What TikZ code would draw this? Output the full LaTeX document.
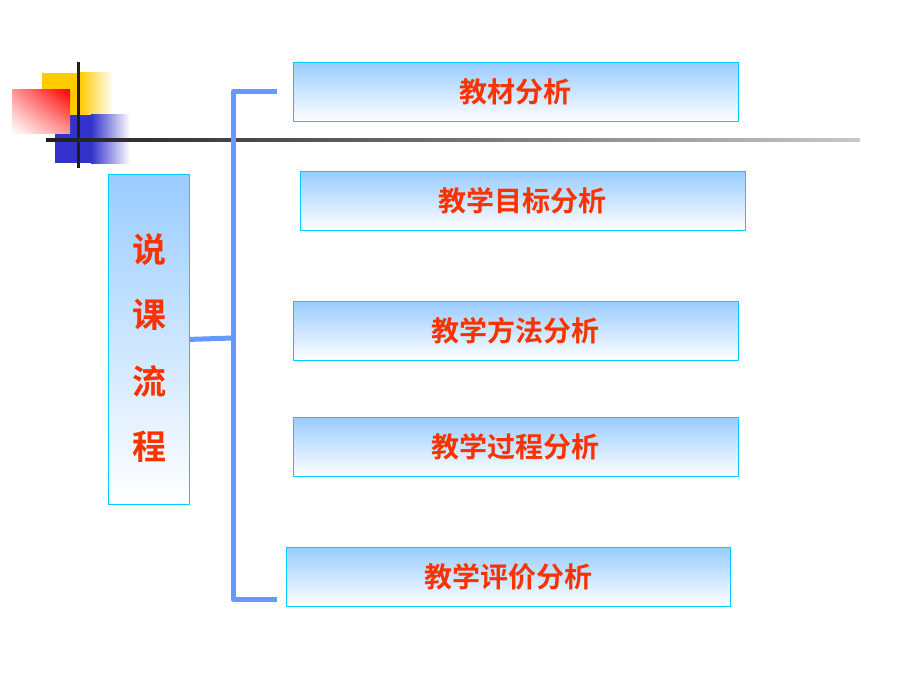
\documentclass[tikz,border=0pt]{standalone}
\usepackage{fontspec}
\usetikzlibrary{shadings}
\newfontfamily\cjk{Noto Sans CJK SC Bold}
\definecolor{lb}{RGB}{153,204,255}
\definecolor{bd}{RGB}{0,204,255}
\definecolor{tx}{RGB}{250,50,0}
\definecolor{br}{RGB}{102,153,255}
\definecolor{yl}{RGB}{255,204,0}
\definecolor{bl}{RGB}{51,51,204}
\definecolor{pk}{RGB}{255,150,150}
\definecolor{dk}{RGB}{30,30,30}
\definecolor{gy}{RGB}{200,200,200}
\begin{document}
\begin{tikzpicture}[x=1pt,y=-1pt,
 box/.style={draw=bd,line width=0.8pt,top color=lb,bottom color=white,inner sep=0pt,anchor=north west},
 lbl/.style={text=tx,font=\cjk\fontsize{28}{30}\selectfont},
 brk/.style={br,line width=5pt,line join=round}]
\useasboundingbox (0,0) rectangle (920,690);
% decoration
\fill[left color=yl,right color=white] (80,73) rectangle (113,115);
\fill[yl] (42,73) rectangle (80,115);
\fill[left color=bl,right color=white] (91,115) rectangle (130,163);
\fill[bl] (55,115) rectangle (91,163);
\shade[lower left=white,upper right=red,upper left=pk,lower right=pk] (12,90) rectangle (70,133);
\draw[line width=3pt,dk] (78,62) -- (78,168);
\shade[left color=dk,right color=gy] (46,138.5) rectangle (860,141.5);
% boxes
\node[box,minimum width=445,minimum height=59] (b1) at (293,62) {};
\node[lbl] at (b1.center) {教材分析};
\node[box,minimum width=445,minimum height=59] (b2) at (300,171) {};
\node[lbl] at (b2.center) {教学目标分析};
\node[box,minimum width=445,minimum height=59] (b3) at (293,301) {};
\node[lbl] at (b3.center) {教学方法分析};
\node[box,minimum width=445,minimum height=59] (b4) at (293,417) {};
\node[lbl] at (b4.center) {教学过程分析};
\node[box,minimum width=444,minimum height=59] (b5) at (286,547) {};
\node[lbl] at (b5.center) {教学评价分析};
\node[box,minimum width=81,minimum height=330] (L) at (108,174) {};
\foreach \c/\y in {说/250,课/315,流/381,程/447} \node[text=tx,font=\cjk\fontsize{34}{36}\selectfont] at (149,\y) {\c};
% bracket
\coordinate (t) at (277,92); \coordinate (bt) at (277,599);
\draw[brk] (t) -- (233,92) -- (233,599) -- (bt);
\draw[brk] (L.east) -- (233,338);
\end{tikzpicture}
\end{document}
